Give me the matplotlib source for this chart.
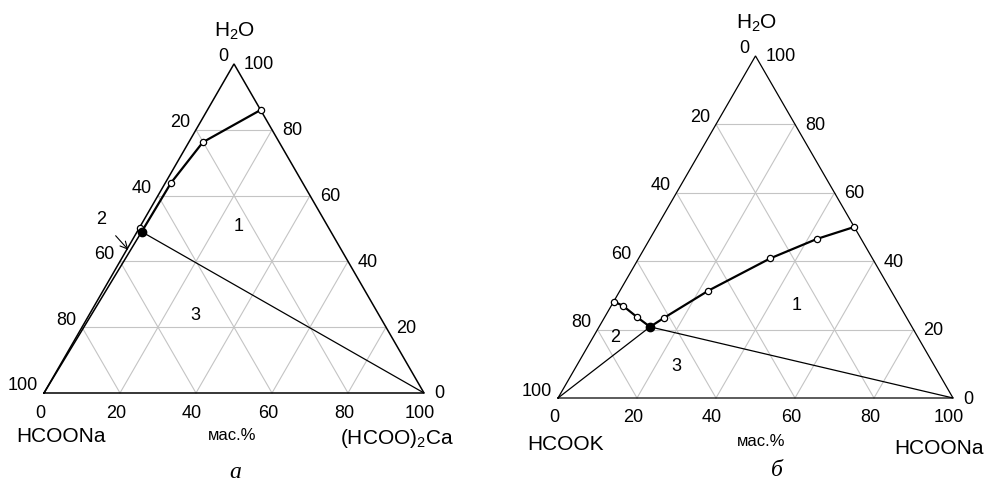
import numpy as np
import matplotlib.pyplot as plt

plt.rcParams['font.family'] = ['Liberation Sans', 'DejaVu Sans']
plt.rcParams['mathtext.fontset'] = 'custom'
plt.rcParams['mathtext.rm'] = 'Liberation Sans'
plt.rcParams['mathtext.it'] = 'Liberation Sans'

S3 = np.sqrt(3) / 2
FIG_W, FIG_H = 992, 484
ticks = [0, 20, 40, 60, 80, 100]
grid_vals = [20, 40, 60, 80]

# diagram a: HCOONa - (HCOO)2Ca - H2O (mass %, b = (HCOO)2Ca, w = H2O)
a_sol_b = [14.0, 3.7, 1.5]
a_sol_w = [86.0, 76.2, 63.9]
a_eut = (1.2, 49.0)
a_open = (0.3, 50.0)
a_regions = {'1': (25.8, 50.7), '3': (28.0, 23.7)}
a_arrow_tip = (0.45, 43.5)

# diagram b: HCOOK - HCOONa - H2O (mass %, b = HCOONa, w = H2O)
b_sol_b = [50.0, 42.3, 33.3, 22.4, 15.1]
b_sol_w = [50.0, 46.5, 40.8, 31.4, 23.4]
b_eut = (12.9, 20.8)
b_br_b = [8.1, 2.9, 0.0]
b_br_w = [23.7, 27.0, 28.2]
b_regions = {'1': (47.0, 26.9), '2': (5.5, 17.7), '3': (25.3, 9.2)}

FS_NUM = 13
FS_NAME = 15


def xy(b, w):
    b = np.asarray(b, dtype=float)
    w = np.asarray(w, dtype=float)
    return b + w / 2, w * S3


def off(dx, dy):
    # pixel offset (y down) -> points
    return (dx * 0.72, -dy * 0.72)


def make_axes(fig, rect, base_x, base_y, side):
    ax = fig.add_axes(rect)
    k = side / 100
    lpx = rect[0] * FIG_W
    wpx = rect[2] * FIG_W
    ax.set_xlim((lpx - base_x) / k, (lpx + wpx - base_x) / k)
    y0 = FIG_H - base_y
    ax.set_ylim(-y0 / k, (FIG_H - y0) / k)
    ax.axis('off')
    return ax


def draw_frame(ax, edge_lw):
    for v in grid_vals:
        for (b1, w1, b2, w2) in [(0, v, 100 - v, v), (v, 0, v, 100 - v), (100 - v, 0, 0, 100 - v)]:
            x, y = xy([b1, b2], [w1, w2])
            ax.plot(x, y, color='#c4c4c4', lw=0.8, zorder=1)
    x, y = xy([0, 100, 0, 0], [0, 0, 100, 0])
    ax.plot(x, y, color='black', lw=edge_lw, zorder=2, solid_joinstyle='miter')
    for t in ticks:
        ax.annotate(str(t), xy(0, 100 - t), xytext=off(-6, -7), textcoords='offset points',
                    ha='right', va='center', fontsize=FS_NUM)
        ax.annotate(str(t), xy(100 - t, t), xytext=off(10, 1), textcoords='offset points',
                    ha='left', va='center', fontsize=FS_NUM)
        ax.annotate(str(t), xy(t, 0), xytext=off(-4, 20), textcoords='offset points',
                    ha='center', va='center', fontsize=FS_NUM)
    ax.annotate('H$_2$O', xy(0, 100), xytext=off(1, -33), textcoords='offset points',
                ha='center', va='center', fontsize=FS_NAME)


def markers(ax, b, w):
    x, y = xy(b, w)
    ax.plot(x, y, 'o', ms=4.5, mfc='white', mec='black', mew=0.9, zorder=5)


fig = plt.figure(figsize=(FIG_W / 100, FIG_H / 100), dpi=100)

# ---- a ----
ax = make_axes(fig, [0, 0, 0.5, 1], 44, 393, 380)
draw_frame(ax, 1.1)
x, y = xy(a_sol_b + [a_eut[0]], a_sol_w + [a_eut[1]])
ax.plot(x, y, color='black', lw=1.6, zorder=3)
x, y = xy([a_eut[0], 0], [a_eut[1], 0])
ax.plot(x, y, color='black', lw=1.1, zorder=3)
x, y = xy([a_eut[0], 100], [a_eut[1], 0])
ax.plot(x, y, color='black', lw=0.9, zorder=3)
markers(ax, a_sol_b, a_sol_w)
markers(ax, [a_open[0]], [a_open[1]])
x, y = xy([a_eut[0]], [a_eut[1]])
ax.plot(x, y, 'o', ms=6, color='black', zorder=6)
for lab, (b, w) in a_regions.items():
    ax.text(*xy(b, w), lab, ha='center', va='center', fontsize=FS_NUM)
ax.annotate('2', xy(*a_arrow_tip), xytext=off(-27, -30), textcoords='offset points',
            ha='center', va='center', fontsize=FS_NUM,
            arrowprops=dict(arrowstyle='->', lw=0.8, color='black', shrinkA=7, shrinkB=0))
ax.annotate('HCOONa', xy(0, 0), xytext=off(17, 44), textcoords='offset points',
            ha='center', va='center', fontsize=FS_NAME)
ax.annotate('(HCOO)$_2$Ca', xy(100, 0), xytext=off(-27, 46), textcoords='offset points',
            ha='center', va='center', fontsize=FS_NAME)
ax.annotate('мас.%', xy(50, 0), xytext=off(-2, 42), textcoords='offset points',
            ha='center', va='center', fontsize=12)
ax.annotate('а', xy(50, 0), xytext=off(1, 80), textcoords='offset points',
            ha='center', va='center', fontsize=17, family='Liberation Serif', style='italic')

# ---- b ----
ax = make_axes(fig, [0.5, 0, 0.5, 1], 558, 398, 395)
draw_frame(ax, 0.9)
x, y = xy(b_sol_b + [b_eut[0]] + b_br_b, b_sol_w + [b_eut[1]] + b_br_w)
ax.plot(x, y, color='black', lw=1.6, zorder=3)
x, y = xy([0, b_eut[0], 100], [0, b_eut[1], 0])
ax.plot(x, y, color='black', lw=0.9, zorder=3)
markers(ax, b_sol_b, b_sol_w)
markers(ax, b_br_b, b_br_w)
x, y = xy([b_eut[0]], [b_eut[1]])
ax.plot(x, y, 'o', ms=6, color='black', zorder=6)
for lab, (b, w) in b_regions.items():
    ax.text(*xy(b, w), lab, ha='center', va='center', fontsize=FS_NUM)
ax.annotate('HCOOK', xy(0, 0), xytext=off(8, 47), textcoords='offset points',
            ha='center', va='center', fontsize=FS_NAME)
ax.annotate('HCOONa', xy(100, 0), xytext=off(-14, 50), textcoords='offset points',
            ha='center', va='center', fontsize=FS_NAME)
ax.annotate('мас.%', xy(50, 0), xytext=off(6, 44), textcoords='offset points',
            ha='center', va='center', fontsize=12)
ax.annotate('б', xy(50, 0), xytext=off(21, 73), textcoords='offset points',
            ha='center', va='center', fontsize=17, family='Liberation Serif', style='italic')

fig.savefig('out.png', dpi=100)
